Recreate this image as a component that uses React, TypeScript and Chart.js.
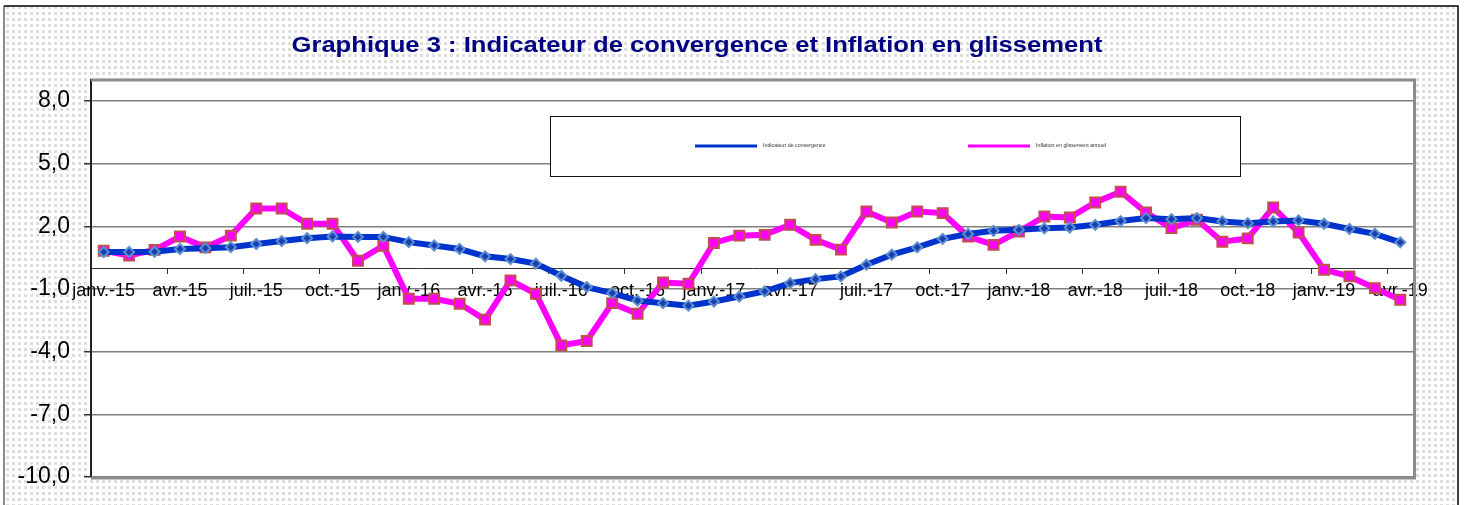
import React, { useEffect, useRef } from 'react';
import { Chart, registerables } from 'chart.js';
Chart.register(...registerables);

const W = 1467;
const H = 505;

const TITLE = 'Graphique 3 : Indicateur de convergence et Inflation en glissement';
const MONTH_ABBR = ['janv.', 'févr.', 'mars', 'avr.', 'mai', 'juin', 'juil.', 'août', 'sept.', 'oct.', 'nov.', 'déc.'];
const YEARS = ['15', '16', '17', '18', '19'];
const N_MONTHS = 52;
const LABELS: string[] = [];
for (let i = 0; i < N_MONTHS; i++) {
  LABELS.push(MONTH_ABBR[i % 12] + '-' + YEARS[Math.floor(i / 12)]);
}

const CONVERGENCE = [
  0.77, 0.77, 0.78, 0.91, 0.95, 1.0, 1.15, 1.29, 1.43, 1.51, 1.49, 1.49,
  1.24, 1.08, 0.91, 0.56, 0.43, 0.21, -0.37, -0.91, -1.2, -1.56, -1.68, -1.8,
  -1.6, -1.36, -1.12, -0.72, -0.53, -0.4, 0.16, 0.64, 0.99, 1.4, 1.63, 1.78,
  1.83, 1.9, 1.94, 2.07, 2.25, 2.39, 2.34, 2.39, 2.23, 2.15, 2.23, 2.28,
  2.12, 1.87, 1.64, 1.23,
];
const INFLATION = [
  0.83, 0.6, 0.87, 1.51, 0.99, 1.55, 2.85, 2.85, 2.12, 2.12, 0.35, 1.07,
  -1.47, -1.47, -1.71, -2.47, -0.59, -1.23, -3.7, -3.49, -1.68, -2.19, -0.69, -0.75,
  1.2, 1.55, 1.59, 2.07, 1.35, 0.88, 2.71, 2.18, 2.71, 2.63, 1.51, 1.11,
  1.75, 2.47, 2.42, 3.14, 3.65, 2.66, 1.91, 2.31, 1.26, 1.42, 2.9, 1.7,
  -0.08, -0.4, -0.96, -1.52,
];
const Y_TICKS = [-10, -7, -4, -1, 2, 5, 8];
const SERIES_NAMES = ['Indicateur de convergence', 'Inflation en glissement annuel'];

const FONT = '"Liberation Sans", Arial, sans-serif';

const decor = {
  id: 'decor',
  beforeDraw(chart: any) {
    const ctx = chart.ctx as CanvasRenderingContext2D;
    const a = chart.chartArea;
    ctx.save();
    ctx.fillStyle = '#ffffff';
    ctx.fillRect(0, 0, W, H);
    const tile = document.createElement('canvas');
    tile.width = 6;
    tile.height = 6;
    const t = tile.getContext('2d')!;
    t.fillStyle = '#ffffff';
    t.fillRect(0, 0, 6, 6);
    t.fillStyle = '#dedede';
    t.fillRect(0, 0, 3, 3);
    const pat = ctx.createPattern(tile, 'repeat');
    if (pat) {
      ctx.fillStyle = pat;
      ctx.fillRect(4, 6, 1454, H - 6);
    }
    // outer border
    ctx.strokeStyle = '#8a8a8a';
    ctx.lineWidth = 2;
    ctx.beginPath();
    ctx.moveTo(4, H);
    ctx.lineTo(4, 6);
    ctx.stroke();
    ctx.strokeStyle = '#000';
    ctx.lineWidth = 1.5;
    ctx.beginPath();
    ctx.moveTo(4, 6);
    ctx.lineTo(1458, 6);
    ctx.lineTo(1458, H);
    ctx.stroke();
    // plot area
    ctx.fillStyle = '#ffffff';
    ctx.fillRect(a.left, a.top, a.right - a.left, a.bottom - a.top);
    ctx.restore();
  },
  beforeDatasetsDraw(chart: any) {
    const ctx = chart.ctx as CanvasRenderingContext2D;
    const a = chart.chartArea;
    ctx.save();
    ctx.strokeStyle = '#8c8c8c';
    ctx.lineWidth = 3;
    ctx.beginPath();
    ctx.moveTo(a.left, a.top);
    ctx.lineTo(a.right + 1.5, a.top);
    ctx.lineTo(a.right + 1.5, a.bottom + 1);
    ctx.lineTo(a.left, a.bottom + 1);
    ctx.stroke();
    ctx.restore();
  },
  afterDraw(chart: any) {
    const ctx = chart.ctx as CanvasRenderingContext2D;
    ctx.save();
    // title, stretched horizontally to the reference width
    ctx.font = 'bold 22px ' + FONT;
    ctx.fillStyle = '#000080';
    ctx.textAlign = 'center';
    ctx.textBaseline = 'middle';
    const tw = ctx.measureText(TITLE).width;
    const sx = 811 / tw;
    ctx.save();
    ctx.translate(697, 46);
    ctx.scale(sx, 1);
    ctx.fillText(TITLE, 0, 0);
    ctx.restore();
    // legend box
    ctx.fillStyle = '#ffffff';
    ctx.fillRect(550, 116, 690, 60);
    ctx.strokeStyle = '#111';
    ctx.lineWidth = 1;
    ctx.strokeRect(550.5, 116.5, 690, 60);
    const items = [
      { x: 695, ds: chart.data.datasets[0] },
      { x: 968, ds: chart.data.datasets[1] },
    ];
    ctx.textAlign = 'left';
    ctx.font = '5.3px ' + FONT;
    for (const it of items) {
      ctx.strokeStyle = it.ds.borderColor;
      ctx.lineWidth = 3;
      ctx.beginPath();
      ctx.moveTo(it.x, 146);
      ctx.lineTo(it.x + 62, 146);
      ctx.stroke();
      ctx.fillStyle = '#333';
      ctx.fillText(it.ds.label, it.x + 68, 146);
    }
    ctx.restore();
  },
};

export default function App() {
  const ref = useRef<HTMLCanvasElement>(null);
  useEffect(() => {
    if (!ref.current) return;
    const chart = new Chart(ref.current, {
      type: 'line',
      data: {
        labels: LABELS,
        datasets: [
          {
            label: SERIES_NAMES[0],
            data: CONVERGENCE,
            borderColor: '#0033cc',
            backgroundColor: '#0033cc',
            borderWidth: 6,
            tension: 0,
            pointStyle: 'rectRot',
            pointRadius: 5,
            pointBackgroundColor: '#1a3fb0',
            pointBorderColor: '#5b8fd0',
            pointBorderWidth: 2,
          },
          {
            label: SERIES_NAMES[1],
            data: INFLATION,
            borderColor: '#ff00ff',
            backgroundColor: '#ff00ff',
            borderWidth: 6,
            tension: 0,
            pointStyle: 'rect',
            pointRadius: 7,
            pointBackgroundColor: '#ff00ff',
            pointBorderColor: '#c0504d',
            pointBorderWidth: 2,
          },
        ],
      },
      options: {
        responsive: false,
        animation: false,
        layout: { padding: { top: 80, bottom: 28, left: 0, right: 54 } },
        plugins: {
          legend: { display: false },
          title: { display: false },
          tooltip: { enabled: false },
        },
        scales: {
          x: {
            type: 'category',
            position: { y: 0 } as any,
            offset: true,
            grid: {
              display: true,
              offset: true,
              drawOnChartArea: false,
              drawTicks: true,
              tickLength: 5,
              lineWidth: 1,
              color: (c: any) => (c.index % 3 === 0 ? '#333' : 'rgba(0,0,0,0)'),
            },
            border: { display: true, color: '#333', width: 1 },
            ticks: {
              autoSkip: false,
              maxRotation: 0,
              minRotation: 0,
              padding: 7,
              color: '#000',
              font: { family: FONT, size: 18 },
              callback: (_v: any, i: number) => (i % 3 === 0 ? LABELS[i] : ''),
            },
          },
          y: {
            min: -10,
            max: 9,
            afterBuildTicks: (s: any) => {
              s.ticks = Y_TICKS.map((v) => ({ value: v }));
            },
            afterFit: (s: any) => {
              s.width = 91;
            },
            grid: {
              color: '#7f7f7f',
              lineWidth: 1.5,
              tickColor: '#333',
              tickLength: 7,
              drawTicks: true,
            },
            border: { display: true, color: '#222', width: 2 },
            ticks: {
              padding: 14,
              color: '#000',
              font: { family: FONT, size: 23 },
              callback: (v: any) => Number(v).toFixed(1).replace('.', ','),
            },
          },
        },
      },
      plugins: [decor],
    });
    return () => chart.destroy();
  }, []);
  return (
    <div style={{ position: 'absolute', left: 0, top: 0, width: W, height: H }}>
      <canvas ref={ref} width={W} height={H} style={{ width: W, height: H, display: 'block' }} />
    </div>
  );
}
